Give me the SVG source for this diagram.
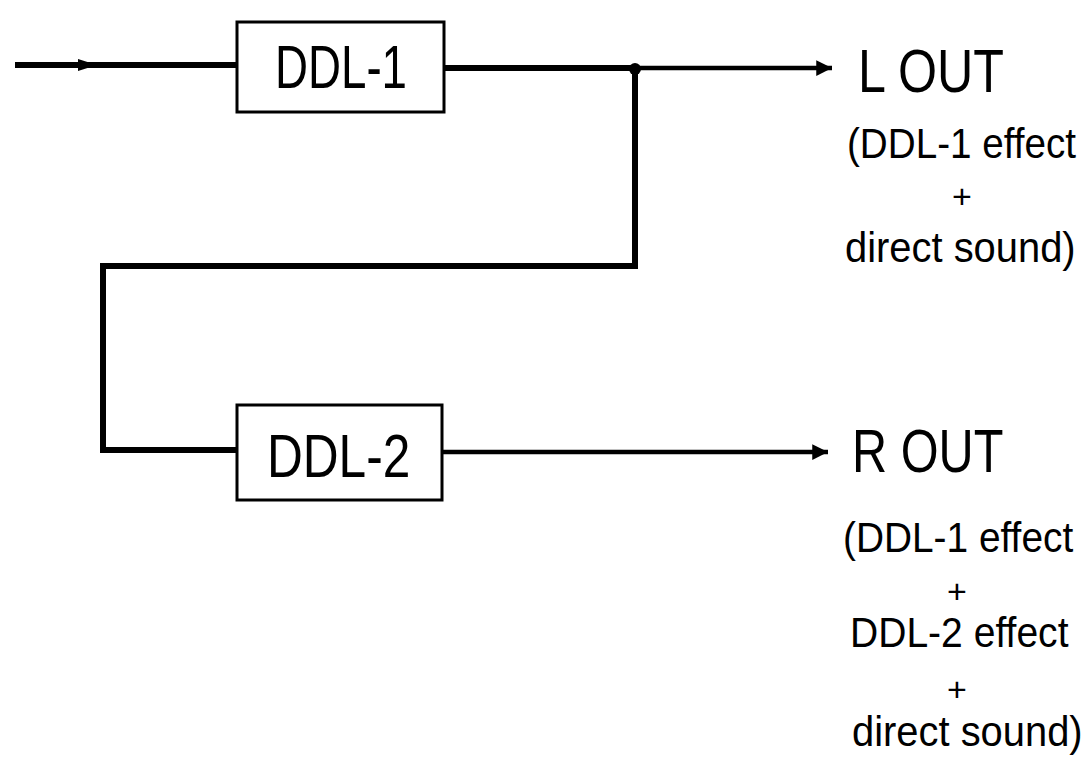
<svg xmlns="http://www.w3.org/2000/svg" width="1086" height="757" viewBox="0 0 1086 757">
<defs>
<style>
.box{fill:#fff;stroke:#000;stroke-width:3}
.ln{fill:none;stroke:#000;stroke-width:6;stroke-linejoin:miter;stroke-linecap:butt}
.ln2{fill:none;stroke:#000;stroke-width:4.5}
.t{font-family:"Liberation Sans",Arial,sans-serif;fill:#000}
.big{font-size:62px}
.sm{font-size:42px}
.pl{font-size:34px}
</style>
<marker id="ah" viewBox="0 0 10 10" refX="10" refY="5" markerWidth="6" markerHeight="3.5" orient="auto" markerUnits="strokeWidth">
<path d="M0,0 L10,5 L0,10 z" fill="#000"/>
</marker>
</defs>
<rect width="1086" height="757" fill="#fff"/>
<g id="connectors">
<path class="ln" d="M15,65 L237,65"/>
<path d="M78,59 L97,65 L78,71 z" fill="#000"/>
<path class="ln" d="M444,68 L635,68"/>
<path class="ln2" d="M635,68 L832,68" marker-end="url(#ah)"/>
<circle cx="635" cy="69" r="6" fill="#000"/>
<path class="ln" d="M635,68 L635,266 L103,266 L103,450 L237,450"/>
<path class="ln2" d="M442,452 L828,452" marker-end="url(#ah)"/>
</g>
<g id="ddl1">
<rect class="box" x="237" y="22" width="207" height="90"/>
<text class="t big" transform="matrix(0.737,0,0,1,275,88)">DDL-1</text>
</g>
<g id="ddl2">
<rect class="box" x="237" y="405" width="205" height="95"/>
<text class="t big" transform="matrix(0.8,0,0,1,267,477)">DDL-2</text>
</g>
<g id="lout">
<text class="t big" transform="matrix(0.81,0,0,1,858,92)">L  OUT</text>
<text class="t sm" transform="matrix(0.92,0,0,1,847,158)">(DDL-1 effect</text>
<text class="t pl" x="962" y="208" text-anchor="middle">+</text>
<text class="t sm" transform="matrix(0.95,0,0,1,845,262)">direct sound)</text>
</g>
<g id="rout">
<text class="t big" transform="matrix(0.785,0,0,1,852,472)">R  OUT</text>
<text class="t sm" transform="matrix(0.925,0,0,1,843,552)">(DDL-1 effect</text>
<text class="t pl" x="957" y="603" text-anchor="middle">+</text>
<text class="t sm" transform="matrix(0.93,0,0,1,850,647)">DDL-2 effect</text>
<text class="t pl" x="957" y="701" text-anchor="middle">+</text>
<text class="t sm" transform="matrix(0.95,0,0,1,852,746)">direct sound)</text>
</g>
</svg>
